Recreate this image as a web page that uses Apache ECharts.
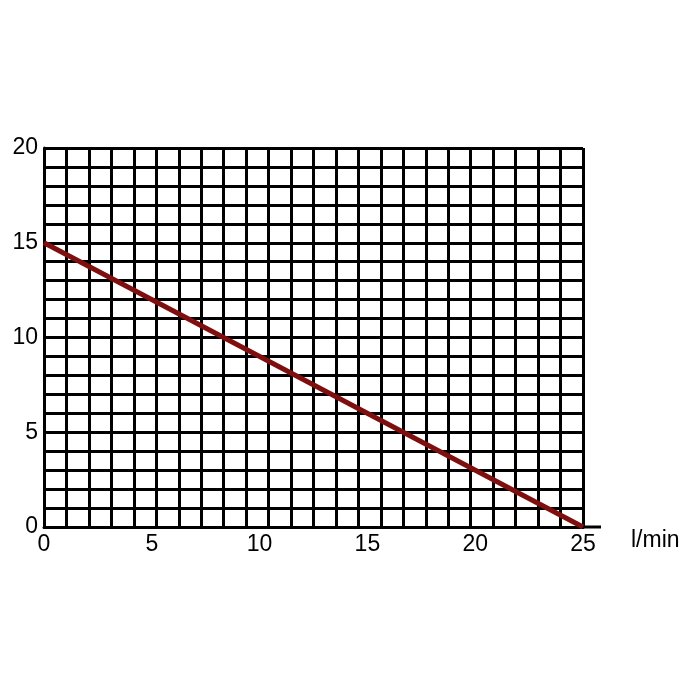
<!DOCTYPE html>
<html>
<head>
<meta charset="utf-8">
<script src="https://cdn.jsdelivr.net/npm/echarts@6/dist/echarts.min.js"></script>
<style>
  body { margin: 0; background: #fff; }
  #chart { width: 696px; height: 696px; }
</style>
</head>
<body>
<div id="chart"></div>
<script>
// flow (l/min) vs head
var flowValues = [0, 25];
var headValues = [15, 0];
var xTicks = [0, 5, 10, 15, 20, 25];
var yTicks = [0, 5, 10, 15, 20];
var xUnit = "l/min";

var chart = echarts.init(document.getElementById("chart"));
var labelFont = { color: "#000", fontSize: 23, fontFamily: "Liberation Sans, Arial, sans-serif" };

chart.setOption({
  animation: false,
  grid: { left: 44, right: 113, top: 148, bottom: 169 },
  xAxis: [
    {
      type: "value",
      min: 0,
      max: 25,
      interval: 5,
      name: xUnit,
      nameLocation: "end",
      nameGap: 48,
      nameTextStyle: Object.assign({ verticalAlign: "top", padding: [2, 0, 0, 0] }, labelFont),
      axisLine: { show: true, lineStyle: { color: "#000", width: 3 } },
      axisTick: { show: false },
      splitLine: { show: false },
      axisLabel: Object.assign({ margin: 6, showMaxLabel: true,
        formatter: function (v) { return xTicks.indexOf(v) >= 0 ? String(v) : ""; } }, labelFont)
    },
    {
      // 24 drawn columns of the paper grid
      type: "value",
      min: 0,
      max: 24,
      interval: 1,
      show: true,
      position: "bottom",
      axisLine: { show: false },
      axisTick: { show: false },
      axisLabel: { show: false },
      splitLine: { show: true, lineStyle: { color: "#000", width: 3 } }
    }
  ],
  yAxis: {
    type: "value",
    min: 0,
    max: 20,
    interval: 1,
    axisLine: { show: true, lineStyle: { color: "#000", width: 3 } },
    axisTick: { show: false },
    splitLine: { show: true, lineStyle: { color: "#000", width: 3 } },
    axisLabel: Object.assign({ margin: 6,
      formatter: function (v) { return yTicks.indexOf(v) >= 0 ? String(v) : ""; } }, labelFont)
  },
  series: [
    {
      type: "line",
      xAxisIndex: 0,
      data: flowValues.map(function (x, i) { return [x, headValues[i]]; }),
      symbol: "none",
      lineStyle: { color: "#7f0f0f", width: 5 },
      z: 5
    }
  ],
  graphic: [
    {
      type: "line",
      shape: { x1: 583, y1: 527, x2: 601, y2: 527 },
      style: { stroke: "#000", lineWidth: 3 }
    }
  ]
});
</script>
</body>
</html>
